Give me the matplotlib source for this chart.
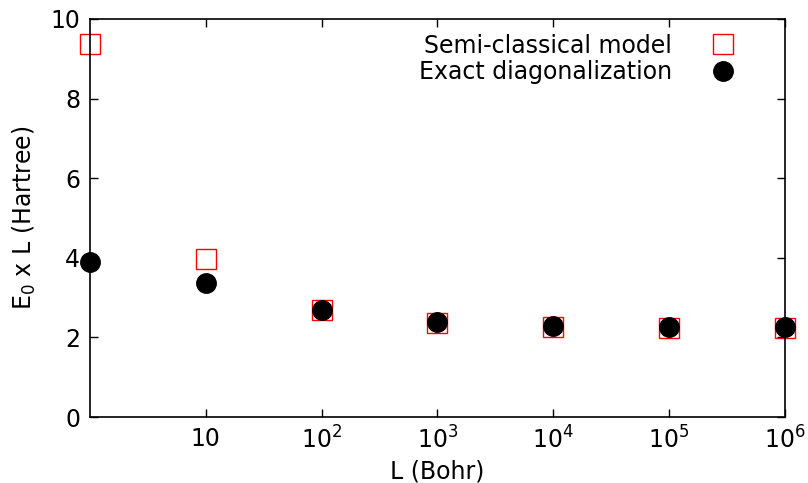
import matplotlib
matplotlib.use("Agg")
import matplotlib.pyplot as plt

# Data
L = [1, 10, 1e2, 1e3, 1e4, 1e5, 1e6]
semi = [9.38, 3.96, 2.70, 2.37, 2.27, 2.24, 2.24]
exact = [3.89, 3.37, 2.70, 2.38, 2.28, 2.25, 2.25]

xticks = [10, 1e2, 1e3, 1e4, 1e5, 1e6]
xlabels = ["10", "$10^2$", "$10^3$", "$10^4$", "$10^5$", "$10^6$"]
yticks = [0, 2, 4, 6, 8, 10]

plt.rcParams["font.family"] = "DejaVu Sans"
plt.rcParams["mathtext.fontset"] = "dejavusans"
plt.rcParams["font.size"] = 17

fig = plt.figure(figsize=(8.08, 4.83), dpi=100)
ax = fig.add_axes([0.1114, 0.1366, 0.8601, 0.8241])

ax.plot(L, semi, linestyle="none", marker="s", ms=14, mfc="none", mec="red",
        mew=1.0, label="Semi-classical model", clip_on=False)
ax.plot(L, exact, linestyle="none", marker="o", ms=14, mfc="black", mec="black",
        label="Exact diagonalization", clip_on=False)

ax.set_xscale("log")
ax.set_xlim(1, 1e6)
ax.set_ylim(0, 10)
ax.set_xticks(xticks)
ax.set_xticklabels(xlabels)
ax.minorticks_off()
ax.set_yticks(yticks)
ax.tick_params(direction="in", top=True, right=True, length=6, width=1, pad=7)

for s in ax.spines.values():
    s.set_linewidth(1.2)

ax.set_xlabel("L (Bohr)", labelpad=4)
ax.set_ylabel("E$_0$ x L (Hartree)", labelpad=9)

ax.legend(loc="upper right", bbox_to_anchor=(0.968, 1.005), frameon=False, markerfirst=False,
          handletextpad=1.15, labelspacing=0.1, borderaxespad=0.3)
for t in ax.get_legend().get_texts():
    t.set_ha("right")

fig.savefig("out.png", dpi=100)
